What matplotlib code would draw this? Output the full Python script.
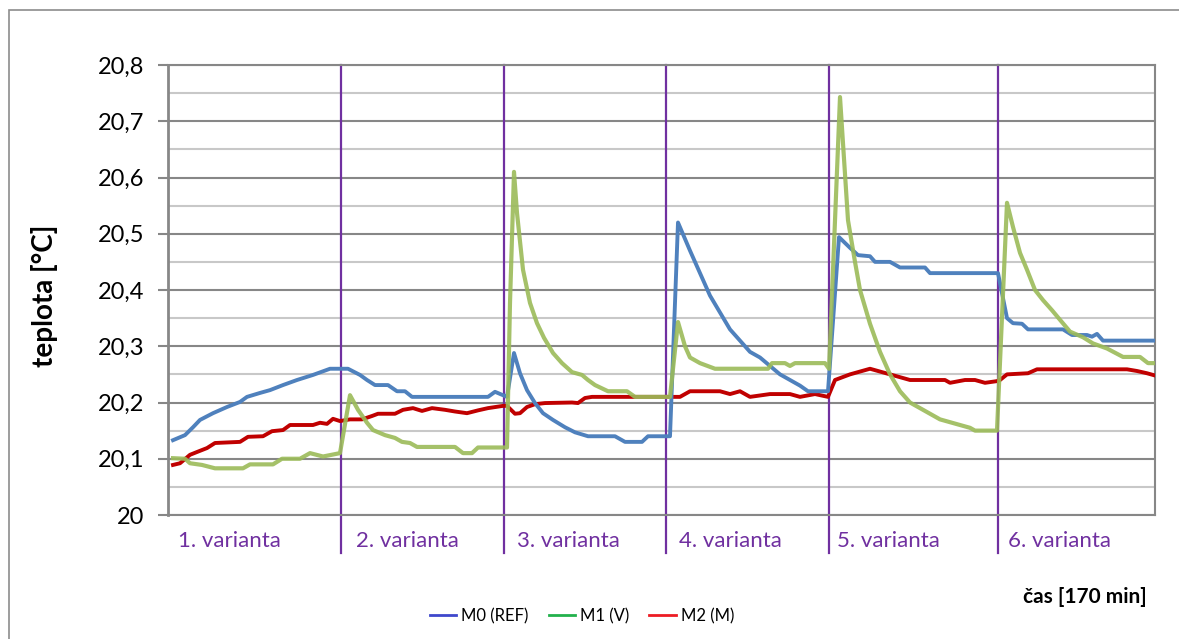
import matplotlib
matplotlib.use("Agg")
import matplotlib.pyplot as plt
from matplotlib.lines import Line2D
from matplotlib.patches import Rectangle
from matplotlib.ticker import MultipleLocator, FuncFormatter

plt.rcParams['font.family'] = ['Lato', 'DejaVu Sans']

# ---- data (time index, temperature in °C) ----
m0_t = [5, 17, 25, 32, 45, 59, 72, 79, 92, 102,
        115, 129, 145, 162, 180, 192, 199, 207, 220, 229,
        237, 244, 320, 327, 339, 346, 352, 359, 367, 375,
        385, 397, 407, 420, 447, 457, 474, 480, 502, 510,
        522, 532, 542, 552, 562, 572, 582, 592, 602, 612,
        622, 632, 640, 660, 671, 682, 690, 702, 707, 722,
        732, 757, 762, 830, 839, 845, 854, 860, 895, 904,
        919, 924, 929, 935, 987]
m0_v = [20.133, 20.142, 20.156, 20.169, 20.181, 20.192, 20.201, 20.21, 20.217, 20.222,
        20.231, 20.24, 20.249, 20.26, 20.26, 20.249, 20.24, 20.231, 20.231, 20.22,
        20.22, 20.21, 20.21, 20.219, 20.21, 20.288, 20.252, 20.222, 20.199, 20.181,
        20.169, 20.156, 20.147, 20.14, 20.14, 20.13, 20.13, 20.14, 20.14, 20.52,
        20.47, 20.43, 20.39, 20.36, 20.33, 20.31, 20.29, 20.28, 20.265, 20.25,
        20.24, 20.23, 20.22, 20.22, 20.494, 20.475, 20.462, 20.46, 20.45, 20.45,
        20.44, 20.44, 20.43, 20.43, 20.35, 20.341, 20.34, 20.33, 20.33, 20.32,
        20.32, 20.317, 20.322, 20.31, 20.31]

m1_t = [5, 17, 22, 34, 47, 75, 82, 105, 114, 132,
        142, 155, 172, 182, 190, 199, 205, 217, 227, 234,
        242, 249, 287, 295, 304, 310, 339, 342, 346, 349,
        355, 362, 369, 376, 385, 394, 404, 414, 420, 427,
        440, 459, 467, 502, 510, 517, 522, 532, 547, 600,
        604, 617, 622, 627, 657, 661, 672, 680, 687, 692,
        702, 712, 722, 732, 742, 752, 762, 772, 782, 792,
        802, 807, 829, 839, 845, 852, 859, 867, 875, 884,
        892, 902, 915, 925, 939, 955, 972, 980, 987]
m1_v = [20.101, 20.1, 20.092, 20.089, 20.083, 20.083, 20.09, 20.09, 20.1, 20.1,
        20.11, 20.104, 20.11, 20.213, 20.187, 20.164, 20.151, 20.142, 20.137, 20.13,
        20.128, 20.121, 20.121, 20.11, 20.11, 20.12, 20.12, 20.377, 20.61, 20.537,
        20.436, 20.377, 20.341, 20.315, 20.288, 20.27, 20.254, 20.249, 20.24, 20.231,
        20.22, 20.22, 20.21, 20.21, 20.343, 20.30, 20.28, 20.27, 20.26, 20.26,
        20.27, 20.27, 20.265, 20.27, 20.27, 20.26, 20.743, 20.524, 20.45, 20.40,
        20.34, 20.29, 20.25, 20.22, 20.20, 20.19, 20.18, 20.17, 20.165, 20.16,
        20.155, 20.15, 20.15, 20.555, 20.512, 20.466, 20.436, 20.40, 20.382, 20.364,
        20.347, 20.326, 20.316, 20.305, 20.296, 20.281, 20.281, 20.27, 20.27]

m2_t = [5, 12, 22, 29, 39, 47, 72, 80, 95, 104,
        115, 122, 145, 152, 159, 165, 172, 182, 194, 204,
        210, 227, 235, 245, 254, 264, 277, 287, 299, 310,
        320, 335, 339, 347, 352, 359, 367, 377, 404, 410,
        417, 424, 512, 517, 522, 552, 562, 572, 582, 602,
        622, 632, 647, 660, 667, 682, 692, 702, 712, 722,
        732, 742, 777, 782, 797, 807, 817, 829, 832, 839,
        860, 869, 959, 969, 979, 987]
m2_v = [20.089, 20.092, 20.107, 20.112, 20.119, 20.128, 20.13, 20.139, 20.14, 20.149,
        20.151, 20.16, 20.16, 20.164, 20.162, 20.171, 20.167, 20.17, 20.17, 20.176,
        20.18, 20.18, 20.187, 20.19, 20.185, 20.19, 20.187, 20.184, 20.181, 20.186,
        20.19, 20.194, 20.194, 20.18, 20.181, 20.192, 20.197, 20.199, 20.2, 20.199,
        20.208, 20.21, 20.21, 20.215, 20.22, 20.22, 20.215, 20.22, 20.21, 20.215,
        20.215, 20.21, 20.215, 20.21, 20.24, 20.25, 20.255, 20.26, 20.255, 20.25,
        20.245, 20.24, 20.24, 20.235, 20.24, 20.24, 20.235, 20.238, 20.24, 20.25,
        20.252, 20.259, 20.259, 20.256, 20.252, 20.248]

boundaries = [173, 336, 498, 661, 830]
variant_labels = ["1. varianta", "2. varianta", "3. varianta",
                  "4. varianta", "5. varianta", "6. varianta"]
variant_label_x = [10, 188, 349, 511, 669, 840]
series_names = ["M0 (REF)", "M1 (V)", "M2 (M)"]

# ---- figure ----
W, H = 1179, 639
fig = plt.figure(figsize=(W / 100, H / 100), dpi=100)
fig.patches.append(Rectangle((9 / W, -0.1), 1.2, (H - 10) / H + 0.1,
                             transform=fig.transFigure, fill=False,
                             edgecolor='#8c8c8c', linewidth=1.2, zorder=0))

ax = fig.add_axes([168 / W, (H - 515) / H, (1155 - 168) / W, (515 - 65) / H])
ax.set_xlim(0, 987)
ax.set_ylim(20.0, 20.8)

ax.yaxis.set_major_locator(MultipleLocator(0.1))
ax.yaxis.set_minor_locator(MultipleLocator(0.05))
ax.yaxis.set_major_formatter(FuncFormatter(
    lambda v, p: ('%g' % round(v, 2)).replace('.', ',')))
ax.set_xticks([])
ax.grid(True, which='major', axis='y', color='#878787', linewidth=1.5, zorder=0)
ax.grid(True, which='minor', axis='y', color='#c8c8c8', linewidth=1.5, zorder=0)
ax.tick_params(axis='y', which='major', length=7, width=1.5, color='#878787',
               labelsize=17, pad=10)
ax.tick_params(axis='y', which='minor', length=0)
for s in ax.spines.values():
    s.set_color('#878787')
    s.set_linewidth(1.5)
ax.spines['left'].set_linewidth(2)

purple = '#7030A0'
for b in boundaries:
    ax.plot([b, b], [19.932, 20.8], color=purple, linewidth=1.6,
            clip_on=False, zorder=2)

for x, lab in zip(variant_label_x, variant_labels):
    ax.text(x, 19.953, lab, color=purple, fontsize=16, ha='left', va='center')

ax.plot(m2_t, m2_v, color='#C00000', linewidth=2.8, zorder=3)
ax.plot(m0_t, m0_v, color='#4F81BD', linewidth=2.8, zorder=4)
ax.plot(m1_t, m1_v, color='#9BBB59', linewidth=3.0, alpha=0.9, zorder=5)

fig.text(45 / W, 1 - 296 / H, "teplota [°C]", fontsize=20, fontweight='bold',
         rotation=90, ha='center', va='center')

fig.text(1147 / W, 1 - 597 / H, "čas [170 min]", fontsize=15,
         fontweight='bold', ha='right', va='center')

handles = [Line2D([], [], color=c, linewidth=2)
           for c in ['#3F48CC', '#22B14C', '#ED1C24']]
fig.legend(handles, series_names, loc='center', bbox_to_anchor=(582 / W, 1 - 616 / H),
           ncol=3, frameon=False, fontsize=12, handlelength=1.6,
           handletextpad=0.3, columnspacing=1.2)

fig.savefig("out.png", dpi=100)
